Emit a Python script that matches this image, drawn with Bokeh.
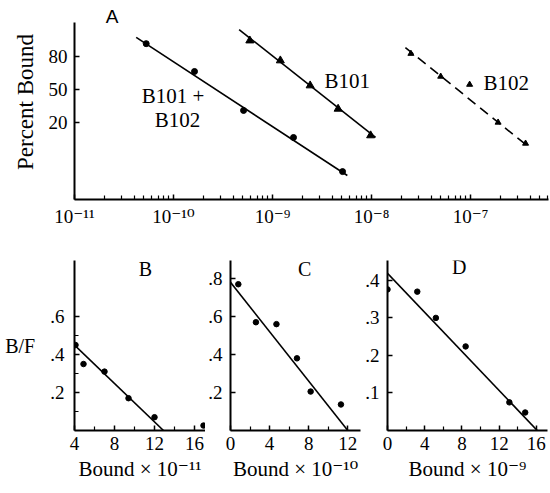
from statistics import NormalDist
from bokeh.plotting import figure
from bokeh.layouts import row, column
from bokeh.models import Label, FixedTicker, CustomJSTickFormatter, Range1d
from bokeh.embed import file_html
from bokeh.resources import INLINE

# ---------------- Panel A data (concentration vs percent bound) ----------------
combo_x = [5.3e-11, 1.63e-10, 5.1e-10, 1.63e-9, 5.1e-9]
combo_pct = [87.9, 67.7, 29.6, 11.0, 1.8]
combo_fit_x = [4.2e-11, 5.7e-9]
combo_fit_pct = [90.8, 1.4]

b101_x = [5.9e-10, 1.2e-9, 2.4e-9, 4.6e-9, 9.8e-9]
b101_pct = [89.4, 77.0, 54.0, 31.0, 12.0]
b101_fit_x = [4.6e-10, 1.1e-8]
b101_fit_pct = [93.7, 11.0]

b102_x = [2.5e-8, 5.0e-8, 9.8e-8, 1.9e-7, 3.6e-7]
b102_pct = [82.0, 63.0, 55.0, 20.0, 8.4]
b102_fit_x = [2.2e-8, 3.9e-7]
b102_fit_pct = [85.8, 7.0]

pct_ticks = [20, 50, 80]
pct_tick_labels = ["20", "50", "80"]
decade_ticks = [1e-11, 1e-10, 1e-9, 1e-8, 1e-7]

# ---------------- Panels B, C, D (Scatchard plots) ----------------
b_bound = [4.1, 4.9, 7.0, 9.4, 12.0, 16.9]
b_bf = [0.45, 0.35, 0.31, 0.17, 0.07, 0.026]
b_fit_bound = [4.0, 12.9]
b_fit_bf = [0.45, 0.0]

c_bound = [0.8, 2.6, 4.7, 6.8, 8.2, 11.3]
c_bf = [0.77, 0.57, 0.56, 0.38, 0.205, 0.137]
c_fit_bound = [0.0, 12.0]
c_fit_bf = [0.78, 0.0]

d_bound = [0.0, 3.2, 5.2, 8.4, 13.1, 14.8]
d_bf = [0.376, 0.37, 0.30, 0.224, 0.075, 0.048]
d_fit_bound = [0.0, 16.1]
d_fit_bf = [0.419, 0.0]

SERIF = "'Liberation Serif', 'DejaVu Serif', serif"
nd = NormalDist()


def probit(p):
    return nd.inv_cdf(p / 100.0)


def style_axes(p, label_size="19px"):
    for ax in (p.xaxis[0], p.yaxis[0]):
        ax.axis_line_width = 2
        ax.axis_line_color = "black"
        ax.major_tick_in = 5
        ax.major_tick_out = 0
        ax.minor_tick_in = 4
        ax.minor_tick_out = 0
        ax.major_tick_line_width = 1.5
        ax.minor_tick_line_width = 1.2
        ax.major_label_text_font = SERIF
        ax.major_label_text_font_size = label_size
        ax.major_label_text_color = "black"
        ax.axis_label_text_font = SERIF
        ax.axis_label_text_font_style = "normal"
        ax.axis_label_text_color = "black"
    p.xgrid.grid_line_color = None
    p.ygrid.grid_line_color = None
    p.outline_line_color = None


# ---------------- Panel A ----------------
Z_BOTTOM, Z_AXIS_TOP, Z_FRAME_TOP = -2.81, 1.71, 2.17
pA = figure(width=550, height=240, x_axis_type="log",
            x_range=Range1d(1e-11, 10 ** (-11 + 474 / 99)),
            y_range=Range1d(Z_BOTTOM, Z_FRAME_TOP),
            output_backend="svg", toolbar_location=None,
            min_border_left=74, min_border_right=2,
            min_border_top=4, min_border_bottom=41)
style_axes(pA)
pA.yaxis.bounds = (Z_BOTTOM, Z_AXIS_TOP)
pA.xaxis.ticker = FixedTicker(
    ticks=decade_ticks,
    minor_ticks=[m * 10.0 ** e for e in range(-11, -6) for m in range(2, 10)])
pA.xaxis.formatter = CustomJSTickFormatter(code="""
const e = Math.round(Math.log10(tick));
const sup = {'-':'\u207b','0':'\u2070','1':'\u00b9','2':'\u00b2','3':'\u00b3','4':'\u2074','5':'\u2075','6':'\u2076','7':'\u2077','8':'\u2078','9':'\u2079'};
return '10' + String(e).split('').map(c => sup[c]).join('');
""")
pA.xaxis.major_label_standoff = 6
pA.yaxis.ticker = FixedTicker(ticks=[probit(v) for v in pct_ticks], minor_ticks=[])
pA.yaxis.formatter = CustomJSTickFormatter(
    args=dict(zs=[probit(v) for v in pct_ticks], labels=pct_tick_labels),
    code="""
let best = 0;
for (let i = 0; i < zs.length; i++) {
  if (Math.abs(zs[i] - tick) < Math.abs(zs[best] - tick)) best = i;
}
return labels[best];
""")
pA.yaxis.major_label_standoff = 7
pA.yaxis.axis_label = "Percent Bound"
pA.yaxis.axis_label_text_font_size = "23px"
pA.yaxis.axis_label_standoff = 8

pA.line(combo_fit_x, [probit(v) for v in combo_fit_pct], line_color="black", line_width=1.6)
pA.scatter(combo_x, [probit(v) for v in combo_pct], marker="circle", size=6,
           fill_color="black", line_color="black")
pA.line(b101_fit_x, [probit(v) for v in b101_fit_pct], line_color="black", line_width=1.6)
pA.scatter(b101_x, [probit(v) for v in b101_pct], marker="triangle", size=8,
           fill_color="black", line_color="black")
pA.line(b102_fit_x, [probit(v) for v in b102_fit_pct], line_color="black", line_width=1.6,
        line_dash="10 6")
pA.scatter(b102_x, [probit(v) for v in b102_pct], marker="triangle", size=6,
           fill_color="black", line_color="black")

for x, zy, t, font, size in [
        (2.4e-11, 1.86, "A", "'Liberation Sans', sans-serif", "19px"),
        (1.05e-10, probit(43.0), "B101  +", SERIF, "21px"),
        (1.1e-10, probit(22.0), "B102", SERIF, "21px"),
        (5.7e-9, probit(59.0), "B101", SERIF, "21px"),
        (2.3e-7, probit(57.0), "B102", SERIF, "21px")]:
    pA.add_layout(Label(x=x, y=zy, text=t, text_font=font, text_font_size=size,
                        text_align="center", text_baseline="middle", text_color="black"))


# ---------------- Panels B, C, D ----------------
def scatchard(width, left, right, xr, yr, xt, xminor, yt, yminor, xs, ys, fx, fy,
              letter, letter_pos, xlabel, ystandoff):
    p = figure(width=width, height=253, x_range=Range1d(*xr), y_range=Range1d(*yr),
               output_backend="svg", toolbar_location=None,
               min_border_left=left, min_border_right=right,
               min_border_top=20, min_border_bottom=63)
    style_axes(p, "19px")
    p.xaxis.ticker = FixedTicker(ticks=xt, minor_ticks=xminor)
    p.yaxis.ticker = FixedTicker(ticks=yt, minor_ticks=yminor)
    p.yaxis.formatter = CustomJSTickFormatter(
        code="return tick.toFixed(1).replace(/^0/, '');")
    p.xaxis.major_label_standoff = 6
    p.yaxis.major_label_standoff = ystandoff
    p.xaxis.axis_label = xlabel
    p.xaxis.axis_label_text_font_size = "21px"
    p.xaxis.axis_label_standoff = 4
    p.line(fx, fy, line_color="black", line_width=1.6)
    p.scatter(xs, ys, marker="circle", size=5.5, fill_color="black", line_color="black")
    p.add_layout(Label(x=letter_pos[0], y=letter_pos[1], text=letter, text_font=SERIF,
                       text_font_size="20px", text_align="center",
                       text_baseline="middle", text_color="black"))
    return p


pB = scatchard(205, 74, 0, (4, 17.1), (0, 0.895), [4, 8, 12, 16], [6, 10, 14],
               [0.2, 0.4, 0.6], [0.1, 0.3, 0.5], b_bound, b_bf, b_fit_bound, b_fit_bf,
               "B", (11.1, 0.85), "Bound \u00d7 10\u207b\u00b9\u00b9", 10)
pB.yaxis.axis_label = "B/F"
pB.yaxis.axis_label_text_font_size = "20px"
pB.yaxis.axis_label_orientation = "horizontal"
pB.yaxis.axis_label_standoff = 12

pC = scatchard(157, 23, 2, (0, 13.3), (0, 0.895), [0, 4, 8, 12], [2, 6, 10],
               [0.2, 0.4, 0.6, 0.8], [], c_bound, c_bf, c_fit_bound, c_fit_bf,
               "C", (7.6, 0.85), "Bound \u00d7 10\u207b\u00b9\u2070", 8)

pD = scatchard(188, 22, 3, (0, 17.2), (0, 0.453), [0, 4, 8, 12, 16], [2, 6, 10, 14],
               [0.1, 0.2, 0.3, 0.4], [], d_bound, d_bf, d_fit_bound, d_fit_bf,
               "D", (7.7, 0.435), "Bound \u00d7 10\u207b\u2079", 8)

layout = column(pA, row(pB, pC, pD))
open("out.html", "w").write(file_html(layout, INLINE))
